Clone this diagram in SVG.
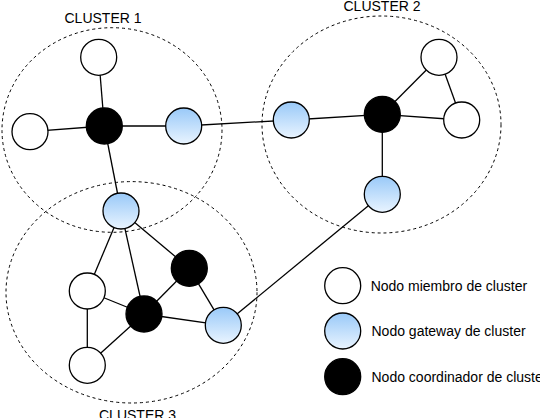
<svg xmlns="http://www.w3.org/2000/svg" width="540" height="418" viewBox="0 0 540 418">
<defs>
<linearGradient id="blueGrad" x1="0" y1="0" x2="0" y2="1">
<stop offset="0" stop-color="#99c9f8"/>
<stop offset="1" stop-color="#e9f4ff"/>
</linearGradient>
<style>
.cluster{fill:none;stroke:#000;stroke-width:1;stroke-dasharray:3,3}
.member{fill:#fff;stroke:#000;stroke-width:1.3}
.gateway{fill:url(#blueGrad);stroke:#000;stroke-width:1.3}
.coord{fill:#000;stroke:#000;stroke-width:1.3}
.edge{stroke:#000;stroke-width:1.3;fill:none}
.lbl{font-family:"Liberation Sans",Arial,sans-serif;font-size:14px;fill:#000}
</style>
</defs>
<rect width="540" height="418" fill="#fff"/>
<g id="clusters">
<ellipse class="cluster" cx="112" cy="130" rx="110" ry="102.3"/>
<ellipse class="cluster" cx="381.5" cy="124.5" rx="119.5" ry="108.5"/>
<ellipse class="cluster" cx="131.5" cy="292.3" rx="125.5" ry="110.7"/>
<text class="lbl" x="103" y="23" text-anchor="middle">CLUSTER 1</text>
<text class="lbl" x="382" y="11" text-anchor="middle">CLUSTER 2</text>
<text class="lbl" x="137.5" y="420" text-anchor="middle">CLUSTER 3</text>
</g>
<g id="connectors">
<line class="edge" x1="98.7" y1="57.3" x2="104.3" y2="126"/>
<line class="edge" x1="30" y1="131.7" x2="104.3" y2="126"/>
<line class="edge" x1="104.3" y1="126" x2="183.7" y2="126"/>
<line class="edge" x1="104.3" y1="126" x2="121" y2="211"/>
<line class="edge" x1="183.7" y1="126" x2="291.3" y2="120"/>
<line class="edge" x1="291.3" y1="120" x2="382.3" y2="114.3"/>
<line class="edge" x1="382.3" y1="114.3" x2="439" y2="57.3"/>
<line class="edge" x1="382.3" y1="114.3" x2="461.7" y2="120"/>
<line class="edge" x1="439" y1="57.3" x2="461.7" y2="120"/>
<line class="edge" x1="382.3" y1="114.3" x2="382.3" y2="194.3"/>
<line class="edge" x1="382.3" y1="194.3" x2="223.3" y2="325.3"/>
<line class="edge" x1="121" y1="211" x2="87.3" y2="291"/>
<line class="edge" x1="121" y1="211" x2="144" y2="314"/>
<line class="edge" x1="121" y1="211" x2="189.3" y2="268.3"/>
<line class="edge" x1="189.3" y1="268.3" x2="144" y2="314"/>
<line class="edge" x1="189.3" y1="268.3" x2="223.3" y2="325.3"/>
<line class="edge" x1="144" y1="314" x2="223.3" y2="325.3"/>
<line class="edge" x1="87.3" y1="291" x2="144" y2="314"/>
<line class="edge" x1="87.3" y1="291" x2="87.3" y2="365.3"/>
<line class="edge" x1="87.3" y1="365.3" x2="144" y2="314"/>
</g>
<g id="c1-member-top"><circle class="member" cx="98.7" cy="57.3" r="18"/></g>
<g id="c1-member-left"><circle class="member" cx="30" cy="131.7" r="18"/></g>
<g id="c1-coord"><circle class="coord" cx="104.3" cy="126" r="18"/></g>
<g id="c1-gateway"><circle class="gateway" cx="183.7" cy="126" r="18"/></g>
<g id="c2-gateway-left"><circle class="gateway" cx="291.3" cy="120" r="18"/></g>
<g id="c2-coord"><circle class="coord" cx="382.3" cy="114.3" r="18"/></g>
<g id="c2-member-top"><circle class="member" cx="439" cy="57.3" r="18"/></g>
<g id="c2-member-right"><circle class="member" cx="461.7" cy="120" r="18"/></g>
<g id="c2-gateway-bottom"><circle class="gateway" cx="382.3" cy="194.3" r="18"/></g>
<g id="c3-gateway-top"><circle class="gateway" cx="121" cy="211" r="18"/></g>
<g id="c3-member-left"><circle class="member" cx="87.3" cy="291" r="18"/></g>
<g id="c3-member-bottom"><circle class="member" cx="87.3" cy="365.3" r="18"/></g>
<g id="c3-coord-center"><circle class="coord" cx="144" cy="314" r="18"/></g>
<g id="c3-coord-upper"><circle class="coord" cx="189.3" cy="268.3" r="18"/></g>
<g id="c3-gateway-right"><circle class="gateway" cx="223.3" cy="325.3" r="18"/></g>
<g id="legend-member"><circle class="member" cx="342.7" cy="285.7" r="18"/><text class="lbl" x="370.7" y="291">Nodo miembro de cluster</text></g>
<g id="legend-gateway"><circle class="gateway" cx="342.7" cy="331" r="18"/><text class="lbl" x="371.5" y="336.3">Nodo gateway de cluster</text></g>
<g id="legend-coord"><circle class="coord" cx="342.7" cy="376.7" r="18"/><text class="lbl" x="371.5" y="382">Nodo coordinador de cluster</text></g>
</svg>
